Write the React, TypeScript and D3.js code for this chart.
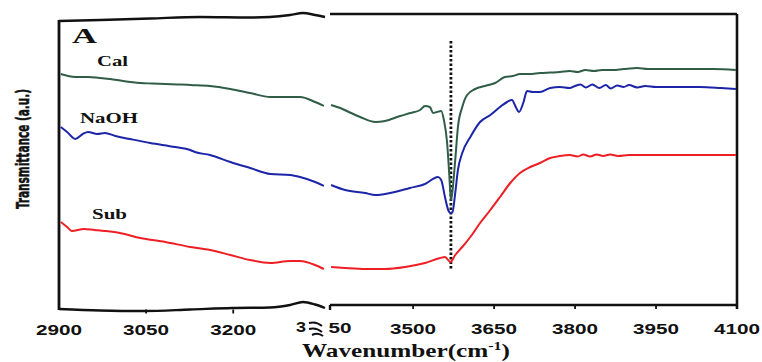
import React from "react";
import * as d3 from "d3";

// ---- Data (wavenumber cm^-1, transmittance a.u.) ----
const calLeft: [number, number][] = [
  [2903, 231], [2928, 228], [2950, 228], [2970, 227], [2988, 226], [3010, 224], [3040, 222],
  [3060, 221.5], [3083, 221], [3110, 220.5], [3126, 220], [3160, 219], [3195, 216], [3229, 212],
  [3264, 208], [3298, 208], [3315, 208], [3341, 203], [3356, 199],
];
const calRight: [number, number][] = [
  [3348, 200], [3365, 197], [3385, 192], [3402, 188], [3430, 183], [3448, 184], [3476, 189],
  [3495, 192], [3513, 195], [3522, 199], [3531, 198], [3537, 192], [3544, 193], [3552, 194],
  [3557, 185], [3563, 162], [3567, 130], [3570, 105], [3572, 110], [3578, 145], [3583, 178],
  [3591, 198], [3600, 210], [3615, 216], [3633, 219], [3652, 222], [3670, 228], [3685, 229],
  [3698, 231], [3715, 231], [3735, 232], [3755, 232.5], [3772, 233], [3790, 234], [3805, 233],
  [3819, 235], [3835, 234], [3850, 235], [3870, 235], [3890, 236], [3915, 237], [3935, 236],
  [3957, 236], [3990, 236], [4020, 236], [4056, 236], [4098, 235],
];
const naohLeft: [number, number][] = [
  [2903, 178], [2914, 173], [2928, 166], [2941, 171], [2950, 173], [2966, 171], [2979, 172],
  [2997, 169], [3022, 166], [3057, 162], [3100, 158], [3126, 155], [3134, 153], [3160, 150],
  [3195, 143], [3229, 137], [3264, 131], [3298, 130], [3315, 128], [3341, 123], [3356, 119],
];
const naohRight: [number, number][] = [
  [3348, 120], [3374, 115], [3411, 112], [3430, 110], [3457, 112], [3494, 117], [3522, 121],
  [3546, 128], [3552, 125], [3559, 108], [3565, 95], [3569, 92], [3573, 93], [3578, 112],
  [3583, 135], [3591, 152], [3606, 168], [3624, 183], [3643, 190], [3661, 198], [3674, 203],
  [3683, 205], [3691, 197], [3696, 193], [3704, 202], [3711, 214], [3722, 213], [3735, 213],
  [3754, 217], [3772, 218], [3790, 217], [3800, 219], [3810, 220.5], [3820, 217.5], [3832, 220.5],
  [3845, 217], [3857, 220], [3866, 216.5], [3878, 219.5], [3890, 218], [3900, 220], [3915, 217.5],
  [3930, 219], [3950, 218], [3980, 218], [4031, 218], [4070, 217], [4098, 216],
];
const subLeft: [number, number][] = [
  [2903, 83], [2914, 78], [2922, 74], [2943, 76], [2961, 75], [2979, 74], [3005, 72],
  [3040, 67], [3083, 63], [3126, 58], [3160, 55], [3195, 50], [3229, 45], [3264, 42],
  [3298, 44], [3315, 44], [3341, 40], [3356, 36],
];
const subRight: [number, number][] = [
  [3348, 38], [3374, 37], [3411, 36], [3448, 36], [3485, 38], [3522, 42], [3550, 47],
  [3559, 48], [3569, 43], [3578, 50], [3591, 58], [3606, 68], [3624, 82], [3643, 95],
  [3661, 108], [3680, 122], [3698, 132], [3717, 138], [3735, 142], [3754, 147], [3772, 149],
  [3790, 150], [3805, 148.5], [3815, 150.5], [3828, 148.5], [3840, 150.5], [3852, 149], [3865, 150.5],
  [3880, 149], [3900, 150], [3930, 150], [3970, 150], [4020, 150], [4098, 150],
];

const leftTicks = [2900, 3050, 3200];
const rightTicks = [3500, 3650, 3800, 3950, 4100];
const breakLabel = ["3", "50"];
const peakPosition = 3570;

// broken-frame outline (wavenumber, a.u.)
const topWaveLeft: [number, number][] = [
  [2900, 284], [2971, 285], [3057, 286.5], [3143, 288], [3229, 287.5], [3263, 288],
  [3298, 290], [3320, 292], [3341, 290], [3358, 288],
];
const bottomWaveLeft: [number, number][] = [
  [2900, -4], [2971, -5.5], [3046, -6], [3126, -4.5], [3198, -3], [3263, -2.5],
  [3298, 0], [3320, 3], [3341, 0.5], [3358, -3],
];

const series = [
  { name: "Cal", left: calLeft, right: calRight, color: "#2f5d45" },
  { name: "NaOH", left: naohLeft, right: naohRight, color: "#1c24a8" },
  { name: "Sub", left: subLeft, right: subRight, color: "#ee1f24" },
];

export default function App() {
  const W = 762, H = 362;
  const xL = d3.scaleLinear().domain([2900, 3358]).range([59, 325]);
  const xR = d3.scaleLinear().domain([3346, 4100]).range([330, 737]);
  const y = d3.scaleLinear().domain([0, 291]).range([305, 14]);

  const mkL = d3.line<[number, number]>().x((d) => xL(d[0])).y((d) => y(d[1])).curve(d3.curveMonotoneX);
  const mkR = d3.line<[number, number]>().x((d) => xR(d[0])).y((d) => y(d[1])).curve(d3.curveMonotoneX);

  const rTop = y(291);
  const rBot = y(0);
  const axisFont = "'Liberation Sans', Arial, sans-serif";
  const serif = "'Liberation Serif', 'Times New Roman', serif";

  return (
    <svg width={W} height={H} style={{ position: "absolute", left: 0, top: 0, background: "#fff" }}>
      {/* frame */}
      <g fill="none" stroke="#111" strokeWidth={2.4}>
        <path d={mkL(topWaveLeft) || ""} />
        <path d={mkL(bottomWaveLeft) || ""} />
        <line x1={xL(2900)} x2={xL(2900)} y1={y(284) - 1} y2={y(-4) + 1} strokeWidth={2.8} />
        <line x1={xR.range()[0]} x2={737} y1={rTop} y2={rTop} />
        <line x1={xR.range()[0]} x2={737} y1={rBot} y2={rBot} />
        <line x1={737} x2={737} y1={rTop} y2={rBot + 4} strokeWidth={2.6} />
        <line x1={xR.range()[0]} x2={xR.range()[0]} y1={rBot} y2={rBot + 5} />
        {rightTicks.map((t) => (
          <line key={t} x1={xR(t)} x2={xR(t)} y1={rBot} y2={rBot + 4} strokeWidth={1.8} />
        ))}
        {leftTicks.slice(1).map((t) => (
          <line key={t} x1={xL(t)} x2={xL(t)} y1={y(-5.5) - 1} y2={y(-5.5) + 3} strokeWidth={1.8} />
        ))}
      </g>

      {/* dotted reference line */}
      <line
        x1={xR(peakPosition)}
        x2={xR(peakPosition)}
        y1={y(264)}
        y2={y(35)}
        stroke="#111"
        strokeWidth={2.8}
        strokeDasharray="2.5,2"
      />

      {/* spectra */}
      {series.map((s) => (
        <g key={s.name} fill="none" stroke={s.color} strokeWidth={2} strokeLinejoin="round">
          <path d={mkL(s.left) || ""} />
          <path d={mkR(s.right) || ""} />
        </g>
      ))}

      {/* series labels */}
      <g fontFamily={serif} fontWeight="bold" fill="#111">
        <text x={72} y={43} fontSize={21} textLength={25} lengthAdjust="spacingAndGlyphs">A</text>
        <text x={97} y={66} fontSize={15} textLength={31} lengthAdjust="spacingAndGlyphs">Cal</text>
        <text x={80} y={123} fontSize={15} textLength={58} lengthAdjust="spacingAndGlyphs">NaOH</text>
        <text x={92} y={219} fontSize={15} textLength={35} lengthAdjust="spacingAndGlyphs">Sub</text>
      </g>

      {/* tick labels */}
      <g fontFamily={axisFont} fontWeight="bold" fontSize={15} fill="#111" textAnchor="middle">
        {leftTicks.map((t) => (
          <text key={t} x={xL(t)} y={335} textLength={46} lengthAdjust="spacingAndGlyphs">{t}</text>
        ))}
        {rightTicks.map((t) => (
          <text key={t} x={xR(t)} y={334} textLength={46} lengthAdjust="spacingAndGlyphs">{t}</text>
        ))}
        <text x={301} y={332} textLength={10} lengthAdjust="spacingAndGlyphs">{breakLabel[0]}</text>
        <text x={340} y={333} textLength={23} lengthAdjust="spacingAndGlyphs">{breakLabel[1]}</text>
      </g>
      {/* break glyph */}
      <g fill="none" stroke="#111" strokeWidth={2}>
        <path d="M309,323 Q316,321 322,326" />
        <path d="M309,329 Q316,327 322,332" />
        <path d="M312,335 Q318,332 323,336" />
      </g>

      {/* axis titles */}
      <text
        x={302}
        y={357}
        fontFamily={serif}
        fontWeight="bold"
        fontSize={19}
        fill="#111"
        textLength={208}
        lengthAdjust="spacingAndGlyphs"
      >
        Wavenumber(cm<tspan dy={-7} fontSize={12}>-1</tspan><tspan dy={7}>)</tspan>
      </text>
      <text
        transform="translate(29,149) rotate(-90)"
        textAnchor="middle"
        fontFamily="'DejaVu Sans Condensed', 'DejaVu Sans', sans-serif"
        fontWeight="bold"
        fontStretch="condensed"
        fontSize={17}
        fill="#111"
        stroke="#111"
        strokeWidth={0.5}
        textLength={120}
        lengthAdjust="spacingAndGlyphs"
      >
        Transmittance (a.u.)
      </text>
    </svg>
  );
}
